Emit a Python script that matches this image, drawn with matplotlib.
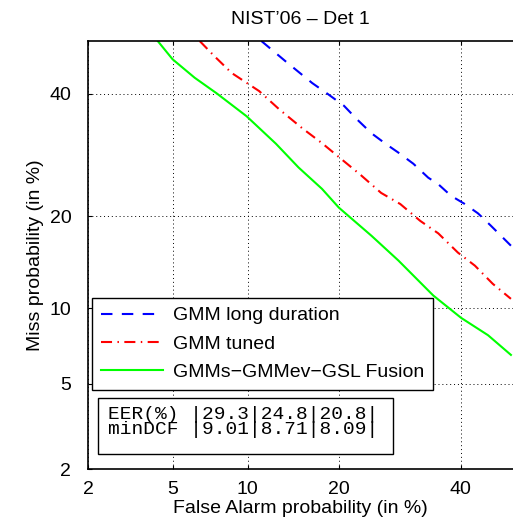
import matplotlib.pyplot as plt
from statistics import NormalDist

# DET curve data (percent)
pfa_long = [11.2, 13.6, 15.3, 16.6, 18.6, 20.7, 22.5, 24.7, 26.9, 29.0, 31.5, 34.1, 35.9, 38.2, 40.8, 43.3, 45.7, 48.0, 49.6]
pmiss_long = [50.0, 46.1, 43.7, 42.0, 39.9, 37.8, 35.4, 32.9, 31.1, 29.6, 27.8, 25.6, 24.6, 22.9, 21.7, 20.4, 18.8, 17.3, 16.3]

pfa_tuned = [6.5, 7.45, 8.7, 11.0, 12.9, 15.4, 17.8, 20.7, 23.1, 26.2, 29.3, 32.7, 35.9, 39.5, 42.7, 46.1, 49.6]
pmiss_tuned = [50.0, 47.1, 43.9, 40.5, 37.2, 33.8, 31.2, 28.2, 26.0, 23.3, 21.7, 19.4, 17.8, 15.5, 14.05, 12.2, 10.8]

pfa_fusion = [4.3, 5.0, 6.2, 7.6, 9.9, 12.6, 15.0, 17.8, 20.0, 24.7, 29.0, 35.0, 40.1, 45.2, 49.6]
pmiss_fusion = [50.0, 46.5, 43.0, 40.1, 35.9, 31.1, 27.2, 23.9, 21.2, 17.5, 14.6, 11.1, 9.2, 7.9, 6.6]

tick_vals = [2, 5, 10, 20, 40]
eer = ["29.3", "24.8", "20.8"]
mindcf = ["9.01", "8.71", "8.09"]

nd = NormalDist()
def probit(vals):
    return [nd.inv_cdf(v / 100.0) for v in vals]

plt.rcParams['font.family'] = ['Liberation Sans', 'DejaVu Sans']

fig = plt.figure(figsize=(5.13, 5.18), dpi=100)
ax = fig.add_axes([88/513, 1-469/518, 425/513, 428/518])

ax.plot(probit(pfa_long), probit(pmiss_long), color=(0, 0, 1), lw=1.5,
        dashes=(5.5, 4.5), label='GMM long duration')
ax.plot(probit(pfa_tuned), probit(pmiss_tuned), color=(1, 0, 0), lw=1.5,
        dashes=(5.3, 2.6, 0.7, 2.6), label='GMM tuned')
ax.plot(probit(pfa_fusion), probit(pmiss_fusion), color=(0, 1, 0), lw=1.5,
        label='GMMs\u2212GMMev\u2212GSL Fusion')

lo = nd.inv_cdf(0.02)
ax.set_xlim(lo, 0.0)
ax.set_ylim(lo, 0.0)
ax.set_xticks(probit(tick_vals))
ax.set_yticks(probit(tick_vals))
ax.set_xticklabels([str(t) for t in tick_vals])
ax.set_yticklabels([str(t) for t in tick_vals])
ax.tick_params(direction='in', length=3, width=0.8, labelsize=14, top=True)
ax.tick_params(axis='x', pad=9)
ax.tick_params(axis='y', pad=12)
ax.grid(True, color='black', lw=0.7, linestyle=(0, (1, 3)))
ax.spines['right'].set_visible(False)
for s in ['left', 'bottom', 'top']:
    ax.spines[s].set_linewidth(1.2)

ax.set_title('NIST\u201906 \u2013 Det 1', fontsize=14, pad=12)
ax.set_xlabel('False Alarm probability (in %)', fontsize=14, labelpad=1)
ax.set_ylabel('Miss probability (in %)', fontsize=14, labelpad=4)

leg = ax.legend(loc='upper left', bbox_to_anchor=(4/425, (469-298)/428),
                fontsize=14, handlelength=3.2, labelspacing=0.55,
                borderaxespad=0, fancybox=False, framealpha=1,
                borderpad=0.45, handletextpad=0.5)
leg.get_frame().set_edgecolor('black')
leg.get_frame().set_linewidth(1.0)

rows = ["EER(%) |" + "|".join(eer) + "|",
        "minDCF |" + "|".join(mindcf) + "|"]
ax.add_patch(plt.Rectangle(((98-88)/425, (469-454)/428), (393-98)/425, (454-398)/428,
                           transform=ax.transAxes, fill=True, facecolor='white',
                           edgecolor='black', lw=1.0, zorder=5))
ax.text((108-88)/425, (469-422)/428, "\n".join(rows), transform=ax.transAxes,
        family=['Liberation Mono', 'DejaVu Sans Mono'], fontsize=14,
        linespacing=0.92, va='center', ha='left', zorder=6)

fig.savefig('out.png', dpi=100)
